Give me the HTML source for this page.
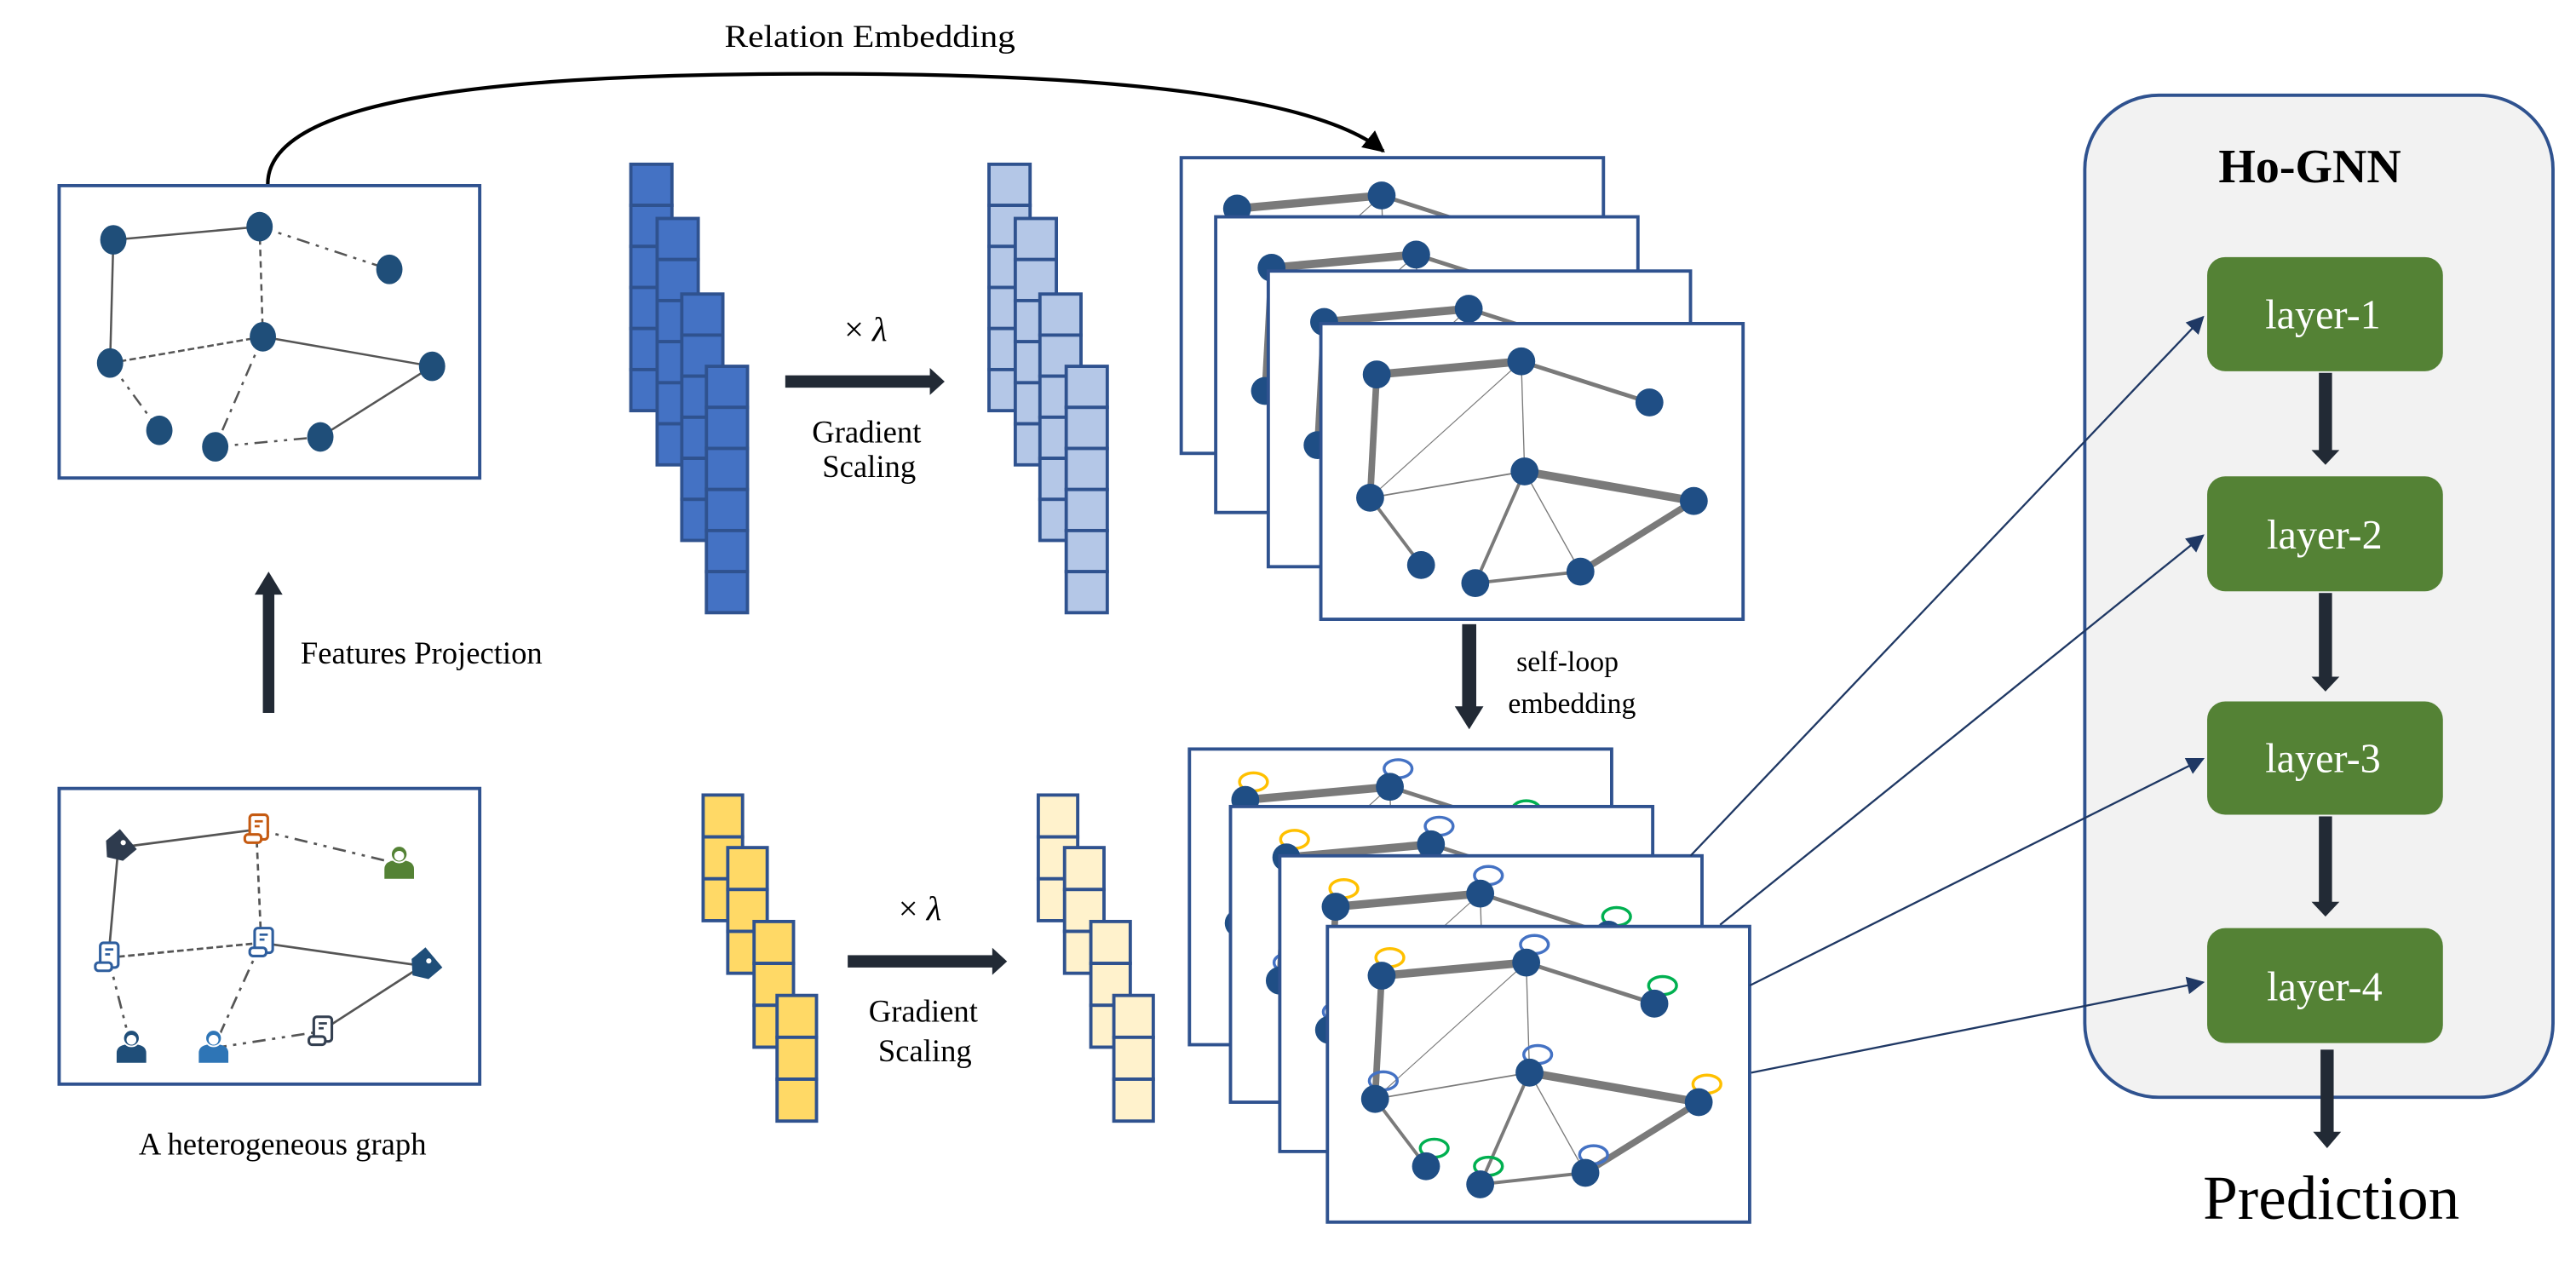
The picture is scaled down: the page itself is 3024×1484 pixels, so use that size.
<!DOCTYPE html>
<html><head><meta charset="utf-8"><style>
html,body{margin:0;padding:0;background:#fff;}
svg{display:block;}
</style></head><body>
<svg width="3024" height="1484" viewBox="0 0 1568 769.5" preserveAspectRatio="none" xmlns="http://www.w3.org/2000/svg" font-family="'Liberation Serif', 'Times New Roman', serif">
<defs>
<marker id="ah" viewBox="0 0 10 10" refX="9" refY="5" markerWidth="6" markerHeight="6" orient="auto" markerUnits="strokeWidth"><path d="M0,0 L10,5 L0,10 z" fill="#000"/></marker>
<marker id="nv" viewBox="0 0 10 10" refX="9" refY="5" markerWidth="12" markerHeight="9" orient="auto" markerUnits="strokeWidth"><path d="M0,0 L10,5 L0,10 z" fill="#1F3864"/></marker>
<g id="gr">
 <g stroke="#7a7a7a" fill="none">
  <line x1="34" y1="31" x2="122" y2="23" stroke-width="5"/>
  <line x1="122" y1="23" x2="200" y2="48" stroke-width="2.5"/>
  <line x1="34" y1="31" x2="30" y2="106" stroke-width="4"/>
  <line x1="122" y1="23" x2="30" y2="106" stroke-width="0.6"/>
  <line x1="122" y1="23" x2="124" y2="90" stroke-width="0.7"/>
  <line x1="30" y1="106" x2="124" y2="90" stroke-width="0.9"/>
  <line x1="30" y1="106" x2="61" y2="147" stroke-width="2"/>
  <line x1="124" y1="90" x2="227" y2="108" stroke-width="5"/>
  <line x1="124" y1="90" x2="94" y2="158" stroke-width="2"/>
  <line x1="124" y1="90" x2="158" y2="151" stroke-width="0.7"/>
  <line x1="94" y1="158" x2="158" y2="151" stroke-width="2"/>
  <line x1="158" y1="151" x2="227" y2="108" stroke-width="4"/>
 </g>
</g>
<g id="nodes" fill="#1F4E85">
 <circle cx="34" cy="31" r="8.5"/><circle cx="122" cy="23" r="8.5"/><circle cx="200" cy="48" r="8.5"/>
 <circle cx="124" cy="90" r="8.5"/><circle cx="30" cy="106" r="8.5"/><circle cx="227" cy="108" r="8.5"/>
 <circle cx="61" cy="147" r="8.5"/><circle cx="94" cy="158" r="8.5"/><circle cx="158" cy="151" r="8.5"/>
</g>
<g id="loops" fill="none" stroke-width="1.8">
 <ellipse cx="39" cy="20" rx="8.5" ry="5.5" stroke="#FFC000"/>
 <ellipse cx="127" cy="12" rx="8.5" ry="5.5" stroke="#4472C4"/>
 <ellipse cx="205" cy="37" rx="8.5" ry="5.5" stroke="#00B050"/>
 <ellipse cx="129" cy="79" rx="8.5" ry="5.5" stroke="#4472C4"/>
 <ellipse cx="35" cy="95" rx="8.5" ry="5.5" stroke="#4472C4"/>
 <ellipse cx="232" cy="97" rx="8.5" ry="5.5" stroke="#FFC000"/>
 <ellipse cx="66" cy="136" rx="8.5" ry="5.5" stroke="#00B050"/>
 <ellipse cx="99" cy="147" rx="8.5" ry="5.5" stroke="#00B050"/>
 <ellipse cx="163" cy="140" rx="8.5" ry="5.5" stroke="#4472C4"/>
</g>
<g id="doc"><rect x="-5" y="-9" width="11" height="15" rx="2" fill="#fff" stroke="currentColor" stroke-width="1.6"/><rect x="-8" y="3" width="10" height="5" rx="2" fill="#fff" stroke="currentColor" stroke-width="1.6"/><line x1="-2" y1="-5" x2="3" y2="-5" stroke="currentColor" stroke-width="1.4"/><line x1="-2" y1="-2" x2="1" y2="-2" stroke="currentColor" stroke-width="1.4"/></g>
<g id="user"><path d="M-9,9 L-9,3 Q-9,-1 -4,-2 L4,-2 Q9,-1 9,3 L9,9 z" fill="currentColor"/><circle cx="0" cy="-6" r="5" fill="currentColor" stroke="#fff" stroke-width="1"/><circle cx="0" cy="-5" r="3" fill="#fff"/></g>
<g id="tag"><path d="M-9,0 L-3,-8 L8,-8 L8,8 L-3,8 z" fill="currentColor" transform="rotate(-40)"/><circle cx="3" cy="-3" r="1.6" fill="#fff"/></g>
</defs>

<!-- Relation embedding -->
<text x="441" y="28.5" font-size="19" textLength="177" lengthAdjust="spacingAndGlyphs">Relation Embedding</text>
<path d="M163,112 C163,55 330,44 520,45 C700,46 805,62 842,92" fill="none" stroke="#000" stroke-width="2.2" marker-end="url(#ah)"/>

<!-- top-left graph -->
<rect x="36" y="113" width="256" height="178" fill="#fff" stroke="#2F528F" stroke-width="2"/>
<g stroke="#555" stroke-width="1.3" fill="none">
 <line x1="69" y1="146" x2="158" y2="138"/>
 <line x1="69" y1="146" x2="67" y2="221"/>
 <line x1="158" y1="138" x2="237" y2="164" stroke-dasharray="8,4,2,4,2,4"/>
 <line x1="158" y1="138" x2="160" y2="205" stroke-dasharray="4,3"/>
 <line x1="67" y1="221" x2="160" y2="205" stroke-dasharray="4,2"/>
 <line x1="160" y1="205" x2="263" y2="223"/>
 <line x1="67" y1="221" x2="97" y2="262" stroke-dasharray="8,4,2,4,2,4"/>
 <line x1="160" y1="205" x2="131" y2="272" stroke-dasharray="8,4,2,4"/>
 <line x1="131" y1="272" x2="195" y2="266" stroke-dasharray="8,4,2,4,2,4"/>
 <line x1="195" y1="266" x2="263" y2="223"/>
</g>
<g fill="#1F4E79">
 <ellipse cx="69" cy="146" rx="8" ry="9"/><ellipse cx="158" cy="138" rx="8" ry="9"/><ellipse cx="237" cy="164" rx="8" ry="9"/>
 <ellipse cx="160" cy="205" rx="8" ry="9"/><ellipse cx="67" cy="221" rx="8" ry="9"/><ellipse cx="263" cy="223" rx="8" ry="9"/>
 <ellipse cx="97" cy="262" rx="8" ry="9"/><ellipse cx="131" cy="272" rx="8" ry="9"/><ellipse cx="195" cy="266" rx="8" ry="9"/>
</g>

<!-- Features projection -->
<rect x="160" y="360" width="7" height="74" fill="#222A35"/>
<path d="M155,362 L163.5,348 L172,362 z" fill="#222A35"/>
<text x="183" y="404" font-size="19">Features Projection</text>

<!-- hetero graph -->
<rect x="36" y="480" width="256" height="180" fill="#fff" stroke="#2F528F" stroke-width="2"/>
<g stroke="#555" stroke-width="1.4" fill="none">
 <line x1="72" y1="516" x2="156" y2="505"/>
 <line x1="72" y1="516" x2="66" y2="583"/>
 <line x1="156" y1="505" x2="243" y2="526" stroke-dasharray="8,4,2,4,2,4"/>
 <line x1="156" y1="505" x2="159" y2="574" stroke-dasharray="4,3"/>
 <line x1="66" y1="583" x2="159" y2="574" stroke-dasharray="4,2"/>
 <line x1="159" y1="574" x2="257" y2="588"/>
 <line x1="66" y1="583" x2="80" y2="638" stroke-dasharray="8,4,2,4,2,4"/>
 <line x1="159" y1="574" x2="130" y2="638" stroke-dasharray="8,4,2,4"/>
 <line x1="130" y1="638" x2="195" y2="628" stroke-dasharray="8,4,2,4,2,4"/>
 <line x1="195" y1="628" x2="257" y2="588"/>
</g>
<use href="#tag" x="72" y="516" style="color:#2E3B4E"/>
<use href="#doc" x="157" y="505" style="color:#C55A11"/>
<use href="#user" x="243" y="526" style="color:#548235"/>
<use href="#doc" x="66" y="583" style="color:#2E5E9E"/>
<use href="#doc" x="160" y="574" style="color:#2E5E9E"/>
<use href="#tag" x="258" y="588" style="color:#1F4E79"/>
<use href="#user" x="80" y="638" style="color:#1F4E79"/>
<use href="#user" x="130" y="638" style="color:#2E75B6"/>
<use href="#doc" x="196" y="628" style="color:#333F50"/>
<text x="172" y="703" font-size="19" text-anchor="middle">A heterogeneous graph</text>

<!-- blue bars -->
<g stroke="#2F528F" stroke-width="2">
 <g fill="#4472C4">
  <rect x="384" y="100" width="25" height="25"/><rect x="384" y="125" width="25" height="25"/><rect x="384" y="150" width="25" height="25"/><rect x="384" y="175" width="25" height="25"/><rect x="384" y="200" width="25" height="25"/><rect x="384" y="225" width="25" height="25"/>
  <rect x="400" y="133" width="25" height="25"/><rect x="400" y="158" width="25" height="25"/><rect x="400" y="183" width="25" height="25"/><rect x="400" y="208" width="25" height="25"/><rect x="400" y="233" width="25" height="25"/><rect x="400" y="258" width="25" height="25"/>
  <rect x="415" y="179" width="25" height="25"/><rect x="415" y="204" width="25" height="25"/><rect x="415" y="229" width="25" height="25"/><rect x="415" y="254" width="25" height="25"/><rect x="415" y="279" width="25" height="25"/><rect x="415" y="304" width="25" height="25"/>
  <rect x="430" y="223" width="25" height="25"/><rect x="430" y="248" width="25" height="25"/><rect x="430" y="273" width="25" height="25"/><rect x="430" y="298" width="25" height="25"/><rect x="430" y="323" width="25" height="25"/><rect x="430" y="348" width="25" height="25"/>
 </g>
 <g fill="#B4C7E7">
  <rect x="602" y="100" width="25" height="25"/><rect x="602" y="125" width="25" height="25"/><rect x="602" y="150" width="25" height="25"/><rect x="602" y="175" width="25" height="25"/><rect x="602" y="200" width="25" height="25"/><rect x="602" y="225" width="25" height="25"/>
  <rect x="618" y="133" width="25" height="25"/><rect x="618" y="158" width="25" height="25"/><rect x="618" y="183" width="25" height="25"/><rect x="618" y="208" width="25" height="25"/><rect x="618" y="233" width="25" height="25"/><rect x="618" y="258" width="25" height="25"/>
  <rect x="633" y="179" width="25" height="25"/><rect x="633" y="204" width="25" height="25"/><rect x="633" y="229" width="25" height="25"/><rect x="633" y="254" width="25" height="25"/><rect x="633" y="279" width="25" height="25"/><rect x="633" y="304" width="25" height="25"/>
  <rect x="649" y="223" width="25" height="25"/><rect x="649" y="248" width="25" height="25"/><rect x="649" y="273" width="25" height="25"/><rect x="649" y="298" width="25" height="25"/><rect x="649" y="323" width="25" height="25"/><rect x="649" y="348" width="25" height="25"/>
 </g>
</g>
<!-- top gradient arrow -->
<rect x="478" y="228.5" width="89" height="7.5" fill="#222A35"/>
<path d="M566,224 L575,232.3 L566,240.5 z" fill="#222A35"/>
<text x="527" y="207.5" font-size="21" text-anchor="middle">× <tspan font-style="italic">λ</tspan></text>
<text x="527.5" y="269.5" font-size="19" text-anchor="middle">Gradient</text>
<text x="529" y="290.5" font-size="19" text-anchor="middle">Scaling</text>

<!-- yellow bars -->
<g stroke="#2F528F" stroke-width="2">
 <g fill="#FFD966">
  <rect x="428" y="484" width="24" height="25.5"/><rect x="428" y="509.5" width="24" height="25.5"/><rect x="428" y="535" width="24" height="25.5"/>
  <rect x="443" y="516" width="24" height="25.5"/><rect x="443" y="541.5" width="24" height="25.5"/><rect x="443" y="567" width="24" height="25.5"/>
  <rect x="459" y="561" width="24" height="25.5"/><rect x="459" y="586.5" width="24" height="25.5"/><rect x="459" y="612" width="24" height="25.5"/>
  <rect x="473" y="606" width="24" height="25.5"/><rect x="473" y="631.5" width="24" height="25.5"/><rect x="473" y="657" width="24" height="25.5"/>
 </g>
 <g fill="#FFF2CC">
  <rect x="632" y="484" width="24" height="25.5"/><rect x="632" y="509.5" width="24" height="25.5"/><rect x="632" y="535" width="24" height="25.5"/>
  <rect x="648" y="516" width="24" height="25.5"/><rect x="648" y="541.5" width="24" height="25.5"/><rect x="648" y="567" width="24" height="25.5"/>
  <rect x="664" y="561" width="24" height="25.5"/><rect x="664" y="586.5" width="24" height="25.5"/><rect x="664" y="612" width="24" height="25.5"/>
  <rect x="678" y="606" width="24" height="25.5"/><rect x="678" y="631.5" width="24" height="25.5"/><rect x="678" y="657" width="24" height="25.5"/>
 </g>
</g>
<rect x="516" y="581.5" width="89" height="7.5" fill="#222A35"/>
<path d="M604,577 L613,585.3 L604,593.5 z" fill="#222A35"/>
<text x="560" y="560" font-size="21" text-anchor="middle">× <tspan font-style="italic">λ</tspan></text>
<text x="562" y="622" font-size="19" text-anchor="middle">Gradient</text>
<text x="563" y="646" font-size="19" text-anchor="middle">Scaling</text>

<!-- top stacked frames -->
<g>
 <rect x="719" y="96" width="257" height="180" fill="#fff" stroke="#2F528F" stroke-width="2"/>
 <g transform="translate(719,96)"><use href="#gr"/><use href="#nodes"/></g>
 <rect x="740" y="132" width="257" height="180" fill="#fff" stroke="#2F528F" stroke-width="2"/>
 <g transform="translate(740,132)"><use href="#gr"/><use href="#nodes"/></g>
 <rect x="772" y="165" width="257" height="180" fill="#fff" stroke="#2F528F" stroke-width="2"/>
 <g transform="translate(772,165)"><use href="#gr"/><use href="#nodes"/></g>
 <rect x="804" y="197" width="257" height="180" fill="#fff" stroke="#2F528F" stroke-width="2"/>
 <g transform="translate(804,197)"><use href="#gr"/><use href="#nodes"/></g>
</g>

<!-- self-loop arrow -->
<rect x="890" y="380" width="8.6" height="52" fill="#222A35"/>
<path d="M885.5,430 L894.3,444 L903,430 z" fill="#222A35"/>
<text x="923" y="408.5" font-size="17.5">self-loop</text>
<text x="918" y="434" font-size="17.5">embedding</text>

<!-- bottom stacked frames -->
<g>
 <rect x="724" y="456" width="257" height="180" fill="#fff" stroke="#2F528F" stroke-width="2"/>
 <g transform="translate(724,456)"><use href="#gr"/><use href="#loops"/><use href="#nodes"/></g>
 <rect x="749" y="491" width="257" height="180" fill="#fff" stroke="#2F528F" stroke-width="2"/>
 <g transform="translate(749,491)"><use href="#gr"/><use href="#loops"/><use href="#nodes"/></g>
 <rect x="779" y="521" width="257" height="180" fill="#fff" stroke="#2F528F" stroke-width="2"/>
 <g transform="translate(779,521)"><use href="#gr"/><use href="#loops"/><use href="#nodes"/></g>
 <rect x="808" y="564" width="257" height="180" fill="#fff" stroke="#2F528F" stroke-width="2"/>
 <g transform="translate(807,563)"><use href="#gr"/><use href="#loops"/><use href="#nodes"/></g>
</g>

<!-- Ho-GNN -->
<rect x="1269" y="58" width="285" height="610" rx="45" ry="45" fill="#F2F2F2" stroke="#2F528F" stroke-width="2"/>
<text x="1406" y="111" font-size="29" font-weight="bold" text-anchor="middle">Ho-GNN</text>
<g fill="#548235">
 <rect x="1343.5" y="156.5" width="143.5" height="69.5" rx="11"/>
 <rect x="1343.5" y="290" width="143.5" height="70" rx="11"/>
 <rect x="1343.5" y="427" width="143.5" height="69" rx="11"/>
 <rect x="1343.5" y="565" width="143.5" height="70" rx="11"/>
</g>
<g fill="#fff" font-size="25" text-anchor="middle">
 <text x="1414" y="200">layer-1</text>
 <text x="1415" y="334">layer-2</text>
 <text x="1414" y="470">layer-3</text>
 <text x="1415" y="609">layer-4</text>
</g>
<g fill="#222A35">
 <rect x="1411.5" y="227" width="8" height="48"/><path d="M1407,274 L1415.5,283 L1424,274 z"/>
 <rect x="1411.5" y="361" width="8" height="52"/><path d="M1407,412 L1415.5,421 L1424,412 z"/>
 <rect x="1411.5" y="497" width="8" height="53"/><path d="M1407,549 L1415.5,558 L1424,549 z"/>
 <rect x="1412.5" y="639" width="8" height="51"/><path d="M1408,689 L1416.5,699 L1425,689 z"/>
</g>
<text x="1419" y="742" font-size="38" text-anchor="middle">Prediction</text>

<!-- connectors to layers -->
<g stroke="#1F3864" stroke-width="1.2" fill="none">
 <line x1="1029" y1="521" x2="1341" y2="193" marker-end="url(#nv)"/>
 <line x1="1047" y1="563" x2="1341" y2="326" marker-end="url(#nv)"/>
 <line x1="1065" y1="600" x2="1341" y2="462" marker-end="url(#nv)"/>
 <line x1="1066" y1="653" x2="1341" y2="598" marker-end="url(#nv)"/>
</g>
</svg>
</body></html>
